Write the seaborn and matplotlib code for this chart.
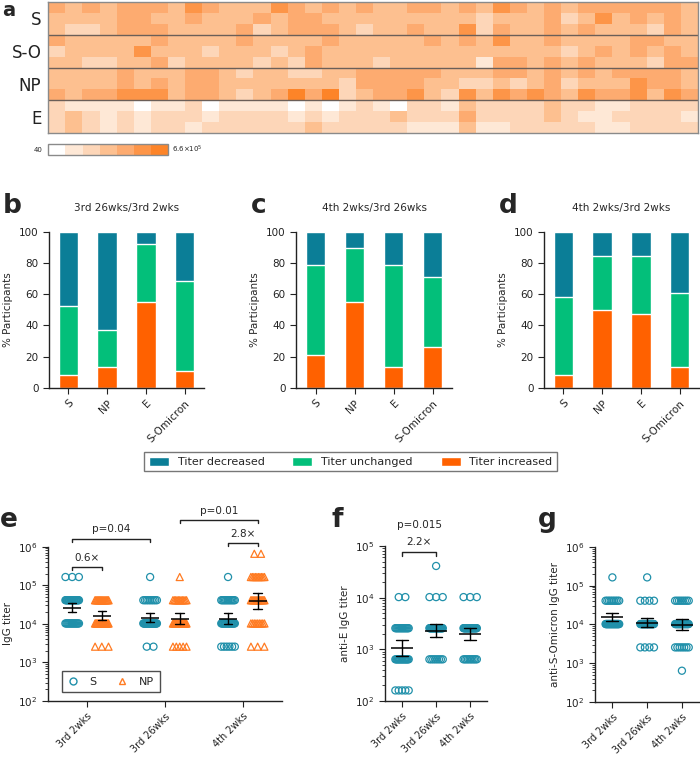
import numpy as np
import pandas as pd
import seaborn as sns
import matplotlib.pyplot as plt
from matplotlib.colors import ListedColormap
from matplotlib.patches import Patch
from matplotlib.lines import Line2D

# Heatmap: dilution step per participant (0 -> 160, each step x4)
# rows inside a group = 3rd 2wks, 3rd 26wks, 4th 2wks
S_levels = [
    [4, 3, 4, 3, 4, 4, 4, 3, 5, 4, 3, 3, 3, 5, 4, 3, 4, 3, 4, 3, 3, 4, 4, 3, 4, 3, 5, 4, 3, 4, 3, 4, 4, 4, 4, 4, 4, 3],
    [3, 3, 3, 3, 4, 4, 3, 3, 4, 3, 3, 3, 4, 3, 4, 4, 3, 3, 3, 3, 3, 3, 3, 3, 3, 2, 3, 3, 3, 4, 2, 3, 5, 3, 4, 3, 4, 3],
    [3, 2, 2, 3, 4, 4, 4, 3, 3, 3, 3, 4, 2, 3, 4, 4, 4, 3, 2, 3, 3, 4, 3, 3, 5, 2, 4, 3, 3, 4, 3, 4, 3, 3, 3, 2, 4, 3],
]
SO_levels = [
    [4, 3, 3, 3, 3, 3, 4, 3, 3, 3, 3, 4, 3, 3, 3, 3, 4, 3, 3, 3, 3, 3, 4, 3, 4, 3, 5, 3, 3, 4, 3, 3, 3, 3, 4, 4, 3, 3],
    [2, 3, 3, 3, 3, 5, 3, 3, 3, 2, 3, 3, 3, 2, 3, 4, 3, 3, 3, 3, 3, 3, 3, 3, 3, 3, 3, 3, 3, 3, 2, 3, 4, 3, 4, 3, 4, 3],
    [3, 3, 2, 2, 3, 3, 4, 2, 3, 3, 3, 3, 2, 3, 2, 4, 3, 3, 3, 2, 3, 3, 3, 3, 3, 1, 4, 4, 3, 4, 3, 4, 3, 3, 3, 2, 4, 4],
]
NP_levels = [
    [3, 3, 3, 3, 4, 3, 3, 3, 4, 4, 3, 2, 3, 3, 2, 2, 3, 3, 4, 4, 4, 4, 4, 3, 3, 3, 4, 4, 3, 4, 3, 4, 3, 4, 4, 4, 4, 3],
    [3, 3, 3, 3, 4, 3, 4, 3, 4, 4, 3, 3, 3, 3, 3, 3, 3, 2, 4, 4, 4, 4, 3, 3, 2, 2, 3, 2, 3, 4, 2, 3, 3, 3, 5, 4, 4, 3],
    [4, 3, 4, 4, 5, 5, 5, 3, 4, 4, 3, 2, 3, 4, 6, 4, 6, 2, 3, 4, 4, 5, 3, 2, 5, 3, 5, 4, 5, 4, 3, 5, 4, 4, 5, 3, 5, 4],
]
E_levels = [
    [2, 1, 1, 1, 1, 0, 1, 1, 2, 0, 1, 1, 1, 1, 0, 1, 0, 1, 2, 1, 0, 2, 2, 1, 3, 2, 2, 2, 2, 3, 2, 2, 1, 1, 2, 2, 2, 2],
    [2, 3, 2, 1, 2, 1, 2, 2, 2, 1, 2, 2, 2, 2, 1, 2, 1, 2, 2, 2, 3, 2, 2, 2, 4, 2, 2, 2, 2, 3, 2, 1, 1, 2, 2, 2, 2, 1],
    [2, 3, 2, 1, 2, 1, 2, 2, 1, 2, 2, 2, 2, 2, 2, 3, 2, 2, 2, 2, 2, 1, 1, 1, 3, 1, 1, 2, 2, 2, 2, 2, 1, 1, 2, 2, 2, 2],
]
row_groups = ["S", "S-O", "NP", "E"]
level_colors = ["#ffffff", "#fee8d6", "#fdd6b8", "#fdc090", "#fdab70", "#fd9548", "#fd8428"]
base_titer = 160

timepoints = ["3rd 2wks", "3rd 26wks", "4th 2wks"]
antigens = ["S", "NP", "E", "S-Omicron"]

# participants per category (increased / unchanged / decreased)
b_inc, b_unch, b_dec = [3, 5, 21, 4], [17, 9, 14, 22], [18, 24, 3, 12]
c_inc, c_unch, c_dec = [8, 21, 5, 10], [22, 13, 25, 17], [8, 4, 8, 11]
d_inc, d_unch, d_dec = [3, 19, 18, 5], [19, 13, 14, 18], [16, 6, 6, 15]

teal, green, orange = "#0b7e97", "#03bf7a", "#ff6100"
s_col, np_col = "#2090aa", "#ff7b22"

sns.set_style("ticks")
plt.rcParams["font.family"] = ["DejaVu Sans"]
plt.rcParams.update({
    "axes.edgecolor": "#222222", "axes.linewidth": 1.0,
    "xtick.color": "#222222", "ytick.color": "#222222",
    "xtick.major.size": 4, "ytick.major.size": 4,
    "ytick.minor.size": 2, "font.size": 7.5,
})

fig = plt.figure(figsize=(7, 7.57), dpi=100)

# ---------------- a: heatmap
heat = np.vstack([S_levels, SO_levels, NP_levels, E_levels])
ax_h = fig.add_axes([0.069, 0.8243, 0.928, 0.173])
ax_cb = fig.add_axes([0.069, 0.7948, 0.1714, 0.0149])
sns.heatmap(heat, cmap=ListedColormap(level_colors), vmin=-0.5, vmax=6.5, ax=ax_h,
            cbar_ax=ax_cb, cbar_kws={"orientation": "horizontal", "ticks": []},
            xticklabels=False, yticklabels=False)
for y in (3, 6, 9):
    ax_h.axhline(y, color="#6b5f58", lw=1)
for sp in ax_h.spines.values():
    sp.set_visible(True)
    sp.set_color("#8a8a8a")
ax_h.set_yticks([1.5, 4.5, 7.5, 10.5])
ax_h.set_yticklabels(row_groups, fontsize=12, rotation=0)
ax_h.tick_params(length=0, pad=5)
cb = ax_h.collections[0].colorbar
cb.outline.set_edgecolor("#8a8a8a")
cb.outline.set_linewidth(1)
ax_cb.text(-0.05, 0.5, "40", transform=ax_cb.transAxes, ha="right", va="center", fontsize=5)
ax_cb.text(1.03, 0.5, "6.6×10$^5$", transform=ax_cb.transAxes, ha="left", va="center", fontsize=5)


# ---------------- b-d: stacked bars
def stacked(ax, inc, unch, dec, title):
    df = pd.DataFrame({"antigen": antigens, "inc": inc, "unch": unch, "dec": dec})
    total = df[["inc", "unch", "dec"]].sum(axis=1)
    df["top_dec"] = 100.0
    df["top_unch"] = (df["inc"] + df["unch"]) / total * 100
    df["top_inc"] = df["inc"] / total * 100
    for col, c in [("top_dec", teal), ("top_unch", green), ("top_inc", orange)]:
        sns.barplot(data=df, x="antigen", y=col, color=c, width=0.5, saturation=1, ax=ax)
    ax.set_ylim(0, 100)
    ax.set_xlim(-0.5, 3.5)
    ax.set_yticks(range(0, 101, 20))
    ax.set_ylabel("% Participants", fontsize=7.5)
    ax.set_xlabel("")
    ax.set_title(title, fontsize=7.5, pad=15)
    ax.tick_params(axis="x", labelrotation=45)
    for lab in ax.get_xticklabels():
        lab.set_ha("right")
        lab.set_rotation_mode("anchor")
    sns.despine(ax=ax)


ax_b = fig.add_axes([0.070, 0.4878, 0.2214, 0.2061])
ax_c = fig.add_axes([0.4229, 0.4878, 0.2229, 0.2061])
ax_d = fig.add_axes([0.7771, 0.4878, 0.2214, 0.2061])
stacked(ax_b, b_inc, b_unch, b_dec, "3rd 26wks/3rd 2wks")
stacked(ax_c, c_inc, c_unch, c_dec, "4th 2wks/3rd 26wks")
stacked(ax_d, d_inc, d_unch, d_dec, "4th 2wks/3rd 2wks")

fig.legend(handles=[Patch(fc=teal, label="Titer decreased"),
                    Patch(fc=green, label="Titer unchanged"),
                    Patch(fc=orange, label="Titer increased")],
           loc="center", bbox_to_anchor=(0.501, 0.39), ncol=3, frameon=True,
           fancybox=False, edgecolor="#555555", fontsize=8, handlelength=1.8,
           handleheight=0.9, columnspacing=2.5, borderpad=0.4)


# ---------------- e-g: titer dot plots
def dot_frame(series, shift, spacing, half):
    rows = []
    for name, levels in series.items():
        for i, tp in enumerate(timepoints):
            titers = base_titer * 4 ** np.asarray(levels[i])
            for val in np.unique(titers):
                n = int((titers == val).sum())
                if (n - 1) * spacing / 2 <= half:
                    offs = (np.arange(n) - (n - 1) / 2) * spacing
                else:
                    offs = np.linspace(-half, half, n)
                for o in offs:
                    rows.append({"series": name, "titer": val,
                                 "center": i + shift[name], "pos": i + shift[name] + o})
    return pd.DataFrame(rows)


def dot_panel(ax, series, shift, colors, markers, spacing, half, ylim, ylabel, mean_w, cap):
    ax.set_yscale("log")
    df = dot_frame(series, shift, spacing, half)
    for name in series:
        sub = df[df["series"] == name]
        sns.scatterplot(data=sub, x="pos", y="titer", marker=markers[name], s=26,
                        color=colors[name], facecolors="none", edgecolor=colors[name],
                        linewidth=0.9, legend=False, ax=ax)
    for name in series:
        sub = df[df["series"] == name]
        sns.pointplot(data=sub, x="center", y="titer", native_scale=True, orient="x",
                      estimator="mean", errorbar=("se", 2.026), color="black",
                      marker="_", markersize=mean_w, markeredgewidth=1.1,
                      linestyle="none", capsize=cap, err_kws={"linewidth": 1}, ax=ax)
    ax.set_ylim(*ylim)
    ax.set_xlim(-0.5, 2.5)
    ax.set_xticks(range(len(timepoints)))
    ax.set_xticklabels(timepoints, rotation=45, ha="right", rotation_mode="anchor", fontsize=7)
    ax.set_xlabel("")
    ax.set_ylabel(ylabel, fontsize=7.5)
    sns.despine(ax=ax)


def bracket(ax, x0, x1, y, text, ty, drop=0.08):
    low = y / 10 ** drop
    ax.plot([x0, x0, x1, x1], [low, y, y, low], color="#222222", lw=1, clip_on=False)
    if text:
        ax.text((x0 + x1) / 2, ty, text, ha="center", va="bottom", fontsize=7.5, clip_on=False)


ax_e = fig.add_axes([0.0686, 0.074, 0.334, 0.2038])
dot_panel(ax_e, {"S": S_levels, "NP": NP_levels}, {"S": -0.19, "NP": 0.19},
          {"S": s_col, "NP": np_col}, {"S": "o", "NP": "^"}, 0.086, 0.087,
          (1e2, 1e6), "IgG titer", 13, 0.11)
bracket(ax_e, -0.19, 0.19, 10 ** 5.48, "0.6×", 10 ** 5.58)
bracket(ax_e, -0.19, 0.81, 10 ** 6.19, "p=0.04", 10 ** 6.32)
bracket(ax_e, 1.19, 2.19, 10 ** 6.69, "p=0.01", 10 ** 6.80)
bracket(ax_e, 1.81, 2.19, 10 ** 6.10, "2.8×", 10 ** 6.20)
ax_e.legend(handles=[Line2D([], [], marker="o", ls="none", mfc="none", mec=s_col, ms=5, label="S"),
                     Line2D([], [], marker="^", ls="none", mfc="none", mec=np_col, ms=5, label="NP")],
            loc="lower left", bbox_to_anchor=(0.035, 0.02), ncol=2, frameon=True,
            fancybox=False, edgecolor="#222222", fontsize=8, columnspacing=1.8,
            handlelength=1.0, handletextpad=1.0, borderpad=0.5)

ax_f = fig.add_axes([0.55, 0.074, 0.146, 0.2048])
dot_panel(ax_f, {"E": E_levels}, {"E": 0.0}, {"E": s_col}, {"E": "o"}, 0.194, 0.196,
          (1e2, 1e5), "anti-E IgG titer", 16, 0.34)
bracket(ax_f, 0, 1, 10 ** 4.88, "2.2×", 10 ** 4.97)
ax_f.text(0.5, 10 ** 5.31, "p=0.015", ha="center", va="bottom", fontsize=7.5)

ax_g = fig.add_axes([0.85, 0.0727, 0.149, 0.2048])
dot_panel(ax_g, {"SO": SO_levels}, {"SO": 0.0}, {"SO": s_col}, {"SO": "o"}, 0.194, 0.196,
          (1e2, 1e6), "anti-S-Omicron IgG titer", 16, 0.34)

# panel letters
fig.text(0.003, 0.999, "a", fontsize=14, fontweight="bold", va="top")
for lab, x, y in [("b", 0.004, 0.7186), ("c", 0.358, 0.7186),
                  ("d", 0.713, 0.7186), ("e", 0.0, 0.3038), ("f", 0.473, 0.3038),
                  ("g", 0.768, 0.3038)]:
    fig.text(x, y, lab, fontsize=19, fontweight="bold", va="baseline")

fig.savefig("out.png", dpi=100)
